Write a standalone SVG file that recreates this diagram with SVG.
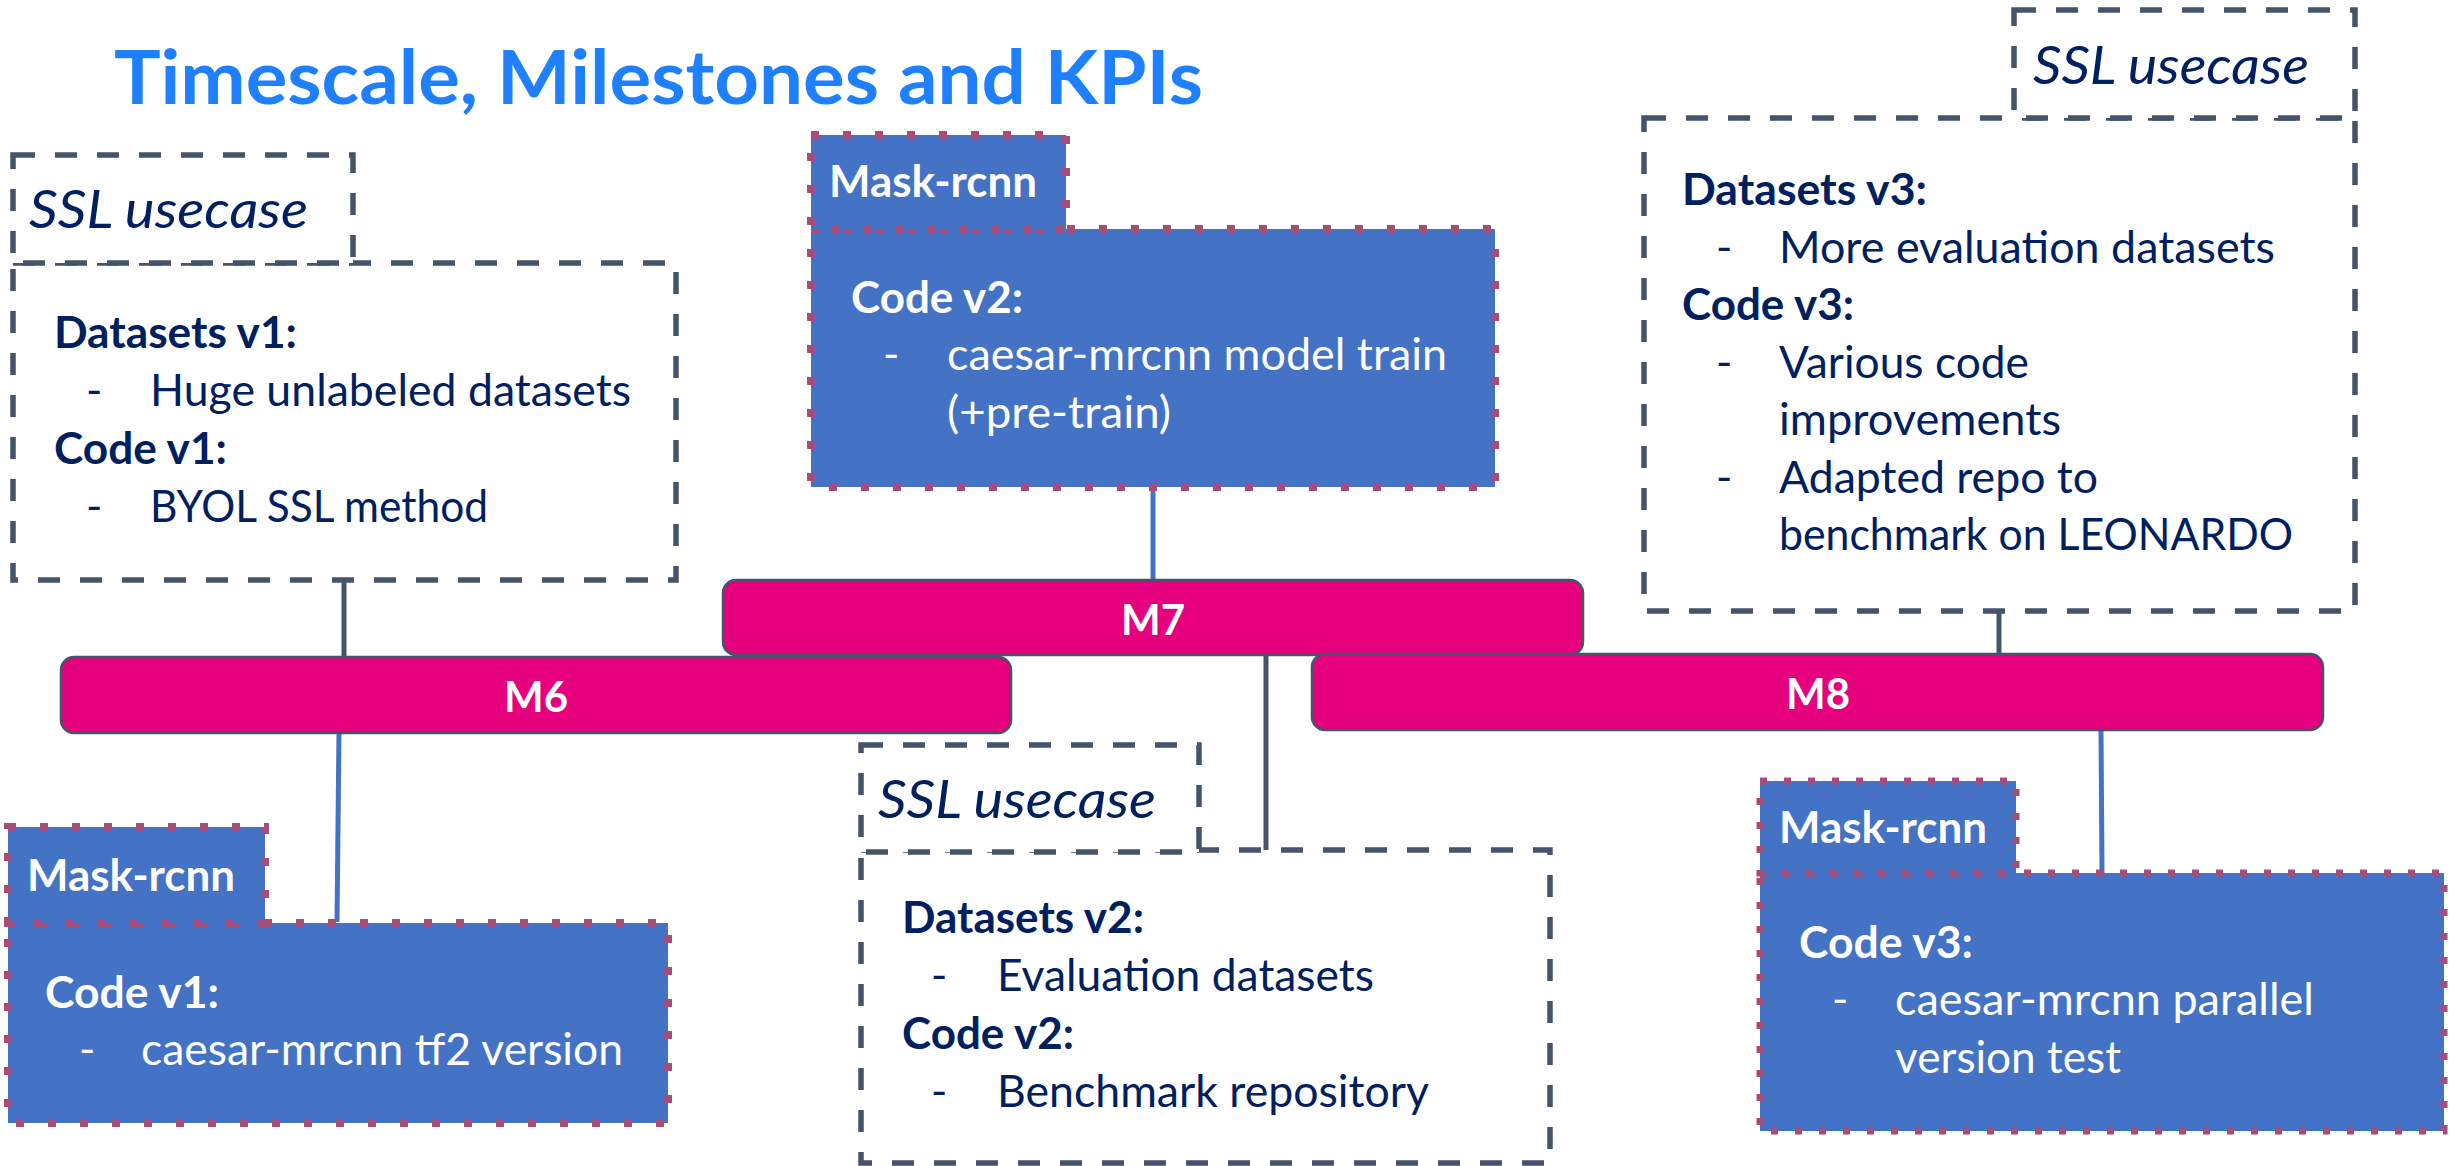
<svg xmlns="http://www.w3.org/2000/svg" width="2450" height="1166" viewBox="0 0 2450 1166">
<style>
text{font-family:Lato,"Open Sans","DejaVu Sans",sans-serif}
.title{font-size:75px;font-weight:700;fill:#1F80FF}
.i{font-size:52px;font-style:italic;fill:#002060}
.h{font-size:44px;font-weight:700;fill:#002060}
.b{font-size:44px;fill:#002060}
.wh{font-size:44px;font-weight:700;fill:#FFFFFF}
.w{font-size:44px;fill:#FFFFFF}
.m{font-size:42px;font-weight:700;fill:#FFFFFF;text-anchor:middle}
.ssl{fill:#FFFFFF;stroke:#44546A;stroke-width:5.5;stroke-dasharray:22 20}
.mask{fill:#4472C4;stroke:#A64D79;stroke-width:8;stroke-dasharray:8 24}
.mask2{fill:#4472C4;stroke:#A64D79;stroke-width:7;stroke-dasharray:7 17}
.bar{fill:#E6007E;stroke:#44546A;stroke-width:2.5}
.cd{stroke:#44546A;stroke-width:5;fill:none}
.cb{stroke:#4472C4;stroke-width:5;fill:none}
</style>
<rect x="0" y="0" width="2450" height="1166" fill="#FFFFFF"/>
<g id="title"><text class="title" x="114" y="104" textLength="1089" lengthAdjust="spacingAndGlyphs">Timescale, Milestones and KPIs</text></g>
<g id="connectors">
<line class="cd" x1="344" y1="580" x2="344" y2="657"/>
<line class="cb" x1="1153" y1="487" x2="1153" y2="580"/>
<line class="cd" x1="1266" y1="655" x2="1266" y2="850"/>
<line class="cd" x1="1999" y1="611" x2="1999" y2="655"/>
<line class="cb" x1="339" y1="732" x2="337" y2="922"/>
<line class="cb" x1="2101" y1="730" x2="2102" y2="873"/>
</g>
<g id="m7"><rect class="bar" x="723" y="580" width="860" height="75" rx="13"/><text class="m" x="1153" y="635">M7</text></g>
<g id="m6"><rect class="bar" x="61" y="657" width="950" height="76" rx="13"/><text class="m" x="536" y="712">M6</text></g>
<g id="m8"><rect class="bar" x="1312" y="654" width="1011" height="76" rx="13"/><text class="m" x="1818" y="709">M8</text></g>
<g id="ssl-m6">
<rect class="ssl" x="13" y="263" width="663" height="317"/>
<rect class="ssl" x="13" y="155" width="340" height="108"/>
<text class="i" x="29" y="228" textLength="279" lengthAdjust="spacingAndGlyphs">SSL usecase</text>
<text class="h" x="54" y="348" textLength="243" lengthAdjust="spacingAndGlyphs">Datasets v1:</text>
<text class="b" x="86" y="406">-</text>
<text class="b" x="150" y="406" textLength="481" lengthAdjust="spacingAndGlyphs">Huge unlabeled datasets</text>
<text class="h" x="54" y="464" textLength="173" lengthAdjust="spacingAndGlyphs">Code v1:</text>
<text class="b" x="86" y="522">-</text>
<text class="b" x="150" y="522" textLength="338" lengthAdjust="spacingAndGlyphs">BYOL SSL method</text>
</g>
<g id="ssl-m7">
<rect class="ssl" x="861" y="850" width="689" height="313"/>
<rect class="ssl" x="861" y="745" width="338" height="107"/>
<text class="i" x="878" y="818" textLength="278" lengthAdjust="spacingAndGlyphs">SSL usecase</text>
<text class="h" x="902" y="933" textLength="242" lengthAdjust="spacingAndGlyphs">Datasets v2:</text>
<text class="b" x="931" y="991">-</text>
<text class="b" x="997" y="991" textLength="377" lengthAdjust="spacingAndGlyphs">Evaluation datasets</text>
<text class="h" x="902" y="1049" textLength="172" lengthAdjust="spacingAndGlyphs">Code v2:</text>
<text class="b" x="931" y="1107">-</text>
<text class="b" x="997" y="1107" textLength="432" lengthAdjust="spacingAndGlyphs">Benchmark repository</text>
</g>
<g id="ssl-m8">
<rect class="ssl" x="1644" y="118" width="711" height="493"/>
<rect class="ssl" x="2014" y="10" width="341" height="108"/>
<text class="i" x="2033" y="84" textLength="276" lengthAdjust="spacingAndGlyphs">SSL usecase</text>
<text class="h" x="1682" y="205" textLength="245" lengthAdjust="spacingAndGlyphs">Datasets v3:</text>
<text class="b" x="1716" y="263">-</text>
<text class="b" x="1779" y="263" textLength="496" lengthAdjust="spacingAndGlyphs">More evaluation datasets</text>
<text class="h" x="1682" y="320" textLength="172" lengthAdjust="spacingAndGlyphs">Code v3:</text>
<text class="b" x="1716" y="378">-</text>
<text class="b" x="1779" y="378" textLength="250" lengthAdjust="spacingAndGlyphs">Various code</text>
<text class="b" x="1779" y="435" textLength="282" lengthAdjust="spacingAndGlyphs">improvements</text>
<text class="b" x="1716" y="493">-</text>
<text class="b" x="1779" y="493" textLength="319" lengthAdjust="spacingAndGlyphs">Adapted repo to</text>
<text class="b" x="1779" y="550" textLength="514" lengthAdjust="spacingAndGlyphs">benchmark on LEONARDO</text>
</g>
<g id="mask-m7">
<rect class="mask" x="811" y="229" width="684" height="258"/>
<rect class="mask" x="811" y="135" width="255" height="94"/>
<text class="wh" x="829" y="197" textLength="208" lengthAdjust="spacingAndGlyphs">Mask-rcnn</text>
<text class="wh" x="851" y="313" textLength="172" lengthAdjust="spacingAndGlyphs">Code v2:</text>
<text class="w" x="883" y="370">-</text>
<text class="w" x="947" y="370" textLength="500" lengthAdjust="spacingAndGlyphs">caesar-mrcnn model train</text>
<text class="w" x="947" y="428" textLength="224" lengthAdjust="spacingAndGlyphs">(+pre-train)</text>
</g>
<g id="mask-m6">
<rect class="mask" x="8" y="923" width="660" height="200"/>
<rect class="mask" x="8" y="827" width="257" height="96"/>
<text class="wh" x="27" y="891" textLength="208" lengthAdjust="spacingAndGlyphs">Mask-rcnn</text>
<text class="wh" x="45" y="1008" textLength="174" lengthAdjust="spacingAndGlyphs">Code v1:</text>
<text class="w" x="79" y="1065">-</text>
<text class="w" x="141" y="1065" textLength="482" lengthAdjust="spacingAndGlyphs">caesar-mrcnn tf2 version</text>
</g>
<g id="mask-m8">
<rect class="mask2" x="1760" y="873" width="684" height="258"/>
<rect class="mask2" x="1760" y="781" width="256" height="92"/>
<text class="wh" x="1779" y="843" textLength="208" lengthAdjust="spacingAndGlyphs">Mask-rcnn</text>
<text class="wh" x="1799" y="958" textLength="174" lengthAdjust="spacingAndGlyphs">Code v3:</text>
<text class="w" x="1832" y="1015">-</text>
<text class="w" x="1895" y="1015" textLength="419" lengthAdjust="spacingAndGlyphs">caesar-mrcnn parallel</text>
<text class="w" x="1895" y="1073" textLength="226" lengthAdjust="spacingAndGlyphs">version test</text>
</g>
</svg>
